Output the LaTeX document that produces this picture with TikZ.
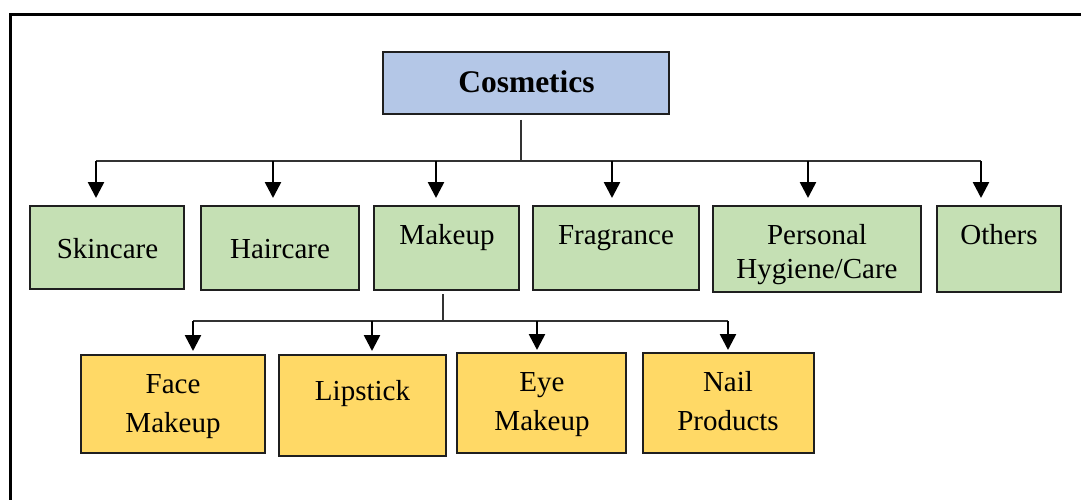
\documentclass[tikz,border=0pt]{standalone}
\usepackage{fontspec}
\setmainfont{Liberation Serif}
\usetikzlibrary{arrows.meta}
\definecolor{cblue}{HTML}{B4C7E7}
\definecolor{cgreen}{HTML}{C5E0B4}
\definecolor{cyellow}{HTML}{FFD966}
\tikzset{
  boxbase/.style={draw=black!88, line width=2pt, rectangle, inner sep=0pt},
  bluebox/.style={boxbase, fill=cblue},
  greenbox/.style={boxbase, fill=cgreen},
  yellowbox/.style={boxbase, fill=cyellow},
  txt/.style={anchor=base, inner sep=0pt, align=center, font=\fontsize{29}{34}\selectfont},
  txtb/.style={anchor=base, inner sep=0pt, font=\fontsize{31.5}{36}\selectfont\bfseries},
  txty/.style={anchor=base, inner sep=0pt, align=center, font=\fontsize{29}{39}\selectfont},
  bus/.style={line width=1.1pt, draw=black!80},
  down/.style={line width=2.6pt, -{Triangle[width=16pt,length=16pt]}},
}
\newcommand\mybox[6]{%
  \node[#2, minimum width={(#5-#3)*1pt}, minimum height={(#6-#4)*1pt}] (#1) at ({(#3+#5)/2},{(#4+#6)/2}) {};}
\begin{document}
\begin{tikzpicture}[x=1pt,y=-1pt]
\useasboundingbox (0,0) rectangle (1081,500);
\clip (0,0) rectangle (1081,500);
\fill[white] (0,0) rectangle (1081,500);
\draw[line width=3pt] (10,15) rectangle (1110,530);

% boxes
\mybox{cos}{bluebox}{383}{52}{669}{114}
\mybox{sk}{greenbox}{30}{206}{184}{289}
\mybox{hc}{greenbox}{201}{206}{359}{290}
\mybox{mk}{greenbox}{374}{206}{519}{290}
\mybox{fr}{greenbox}{533}{206}{699}{290}
\mybox{ph}{greenbox}{713}{206}{921}{292}
\mybox{ot}{greenbox}{937}{206}{1061}{292}
\mybox{fm}{yellowbox}{81}{355}{265}{453}
\mybox{li}{yellowbox}{279}{355}{446}{456}
\mybox{em}{yellowbox}{457}{353}{626}{453}
\mybox{np}{yellowbox}{643}{353}{814}{453}

% texts (multi-line texts anchored at the baseline of their last line)
\node[txtb] (cost) at (526.5,93) {Cosmetics};
\node[txt] (skt) at (107.5,258) {Skincare};
\node[txt] (hct) at (280,258) {Haircare};
\node[txt] (mkt) at (447,244) {Makeup};
\node[txt] (frt) at (616,244) {Fragrance};
\node[txt] (pht) at (817,278) {Personal\\Hygiene/Care};
\node[txt] (ott) at (999,244) {Others};
\node[txty] (fmt) at (173,432) {Face\\Makeup};
\node[txt] (lit) at (362.5,400) {Lipstick};
\node[txty] (emt) at (542,430) {Eye\\Makeup};
\node[txty] (npt) at (728,430) {Nail\\Products};

% first level connectors
\coordinate (c1) at (521,161);
\coordinate (b1L) at (96,161);
\coordinate (b1R) at (981,161);
\draw[bus] (c1 |- cos.south) ++(0,5) -- (c1);
\draw[bus] (b1L) -- (b1R);
\coordinate (a1) at (96,161);
\coordinate (a2) at (273,161);
\coordinate (a3) at (436,161);
\coordinate (a4) at (612,161);
\coordinate (a5) at (808,161);
\coordinate (a6) at (981,161);
\draw[down, shorten >=7pt] (a1) -- (a1 |- sk.north);
\draw[down, shorten >=7pt] (a2) -- (a2 |- hc.north);
\draw[down, shorten >=7pt] (a3) -- (a3 |- mk.north);
\draw[down, shorten >=7pt] (a4) -- (a4 |- fr.north);
\draw[down, shorten >=7pt] (a5) -- (a5 |- ph.north);
\draw[down, shorten >=7pt] (a6) -- (a6 |- ot.north);

% second level connectors
\coordinate (c2) at (443,321);
\coordinate (b2L) at (193,321);
\coordinate (b2R) at (728,321);
\draw[bus] (c2 |- mk.south) ++(0,3) -- (c2);
\draw[bus] (b2L) -- (b2R);
\coordinate (d1) at (193,321);
\coordinate (d2) at (372,321);
\coordinate (d3) at (537,321);
\coordinate (d4) at (728,321);
\draw[down, shorten >=3pt] (d1) -- (d1 |- fm.north);
\draw[down, shorten >=3pt] (d2) -- (d2 |- li.north);
\draw[down, shorten >=2pt] (d3) -- (d3 |- em.north);
\draw[down, shorten >=2pt] (d4) -- (d4 |- np.north);
\end{tikzpicture}
\end{document}
